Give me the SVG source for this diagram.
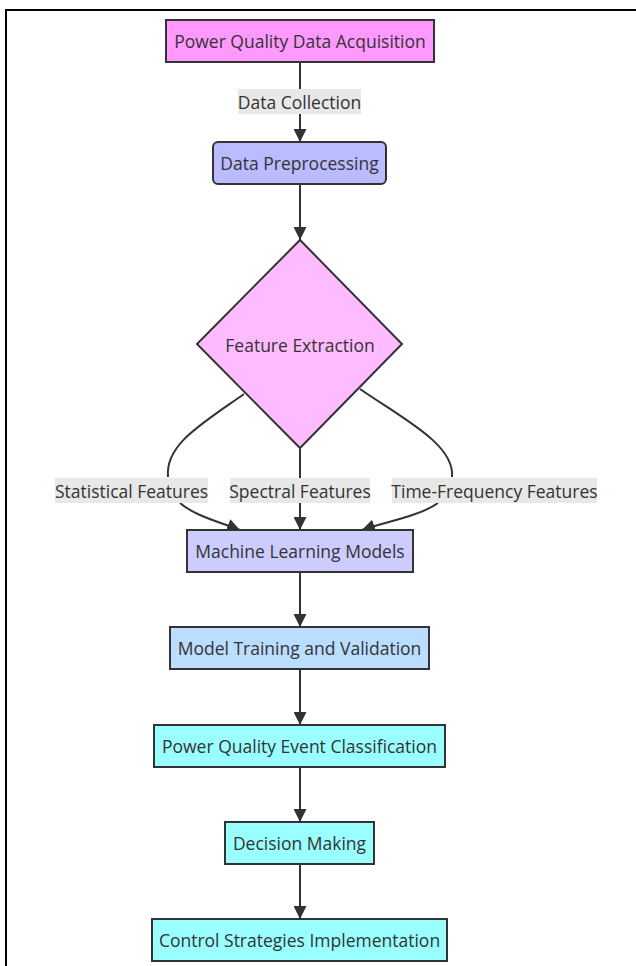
<svg xmlns="http://www.w3.org/2000/svg" width="636" height="966" viewBox="0 0 636 966">
<defs>
<marker id="arr" viewBox="0 0 10 10" refX="10" refY="5" markerWidth="13" markerHeight="13" markerUnits="userSpaceOnUse" orient="auto">
<path d="M0,0 L10,5 L0,10 z" fill="#333"/>
</marker>
<style>
.n{stroke:#333;stroke-width:2}
.t{font-family:"Open Sans",sans-serif;font-size:17.5px;fill:#333;text-anchor:middle;dominant-baseline:central}
.e{fill:none;stroke:#333;stroke-width:2}
.lb{fill:#e8e8e8}
</style>
</defs>
<rect width="636" height="966" fill="#fff"/>
<path d="M6,966 V10 H636" fill="none" stroke="#000" stroke-width="2"/>
<g id="connectors">
<path class="e" d="M300,62 V142" marker-end="url(#arr)"/>
<path class="e" d="M300,184 V240" marker-end="url(#arr)"/>
<path class="e" d="M244,394 C200,425 165,445 168,477"/>
<path class="e" d="M180,503 C195,516 220,522 240,530" marker-end="url(#arr)"/>
<path class="e" d="M300,449 V530" marker-end="url(#arr)"/>
<path class="e" d="M360,389 C405,420 455,445 452,477"/>
<path class="e" d="M438,503 C420,516 385,522 362,530" marker-end="url(#arr)"/>
<path class="e" d="M300,572 V627" marker-end="url(#arr)"/>
<path class="e" d="M300,669 V725" marker-end="url(#arr)"/>
<path class="e" d="M300,767 V822" marker-end="url(#arr)"/>
<path class="e" d="M300,864 V919" marker-end="url(#arr)"/>
<rect class="lb" x="238" y="89" width="123" height="25"/>
<text class="t" x="299.5" y="102">Data Collection</text>
<rect class="lb" x="55" y="478" width="153" height="25"/>
<text class="t" x="131.5" y="491">Statistical Features</text>
<rect class="lb" x="230" y="478" width="140" height="25"/>
<text class="t" x="300" y="491">Spectral Features</text>
<rect class="lb" x="392" y="478" width="205" height="25"/>
<text class="t" x="494.5" y="491">Time-Frequency Features</text>
</g>
<g id="n1"><rect class="n" x="166" y="20" width="268" height="42" fill="#ff99ff"/><text class="t" x="300" y="41">Power Quality Data Acquisition</text></g>
<g id="n2"><rect class="n" x="213" y="142" width="173" height="42" rx="5" fill="#bbbbff"/><text class="t" x="299.5" y="163">Data Preprocessing</text></g>
<g id="n3"><polygon class="n" points="300,240 402,344 300,448 197,344" fill="#ffbbff"/><text class="t" x="300" y="345">Feature Extraction</text></g>
<g id="n4"><rect class="n" x="187" y="530" width="226" height="42" fill="#ccccff"/><text class="t" x="300" y="551">Machine Learning Models</text></g>
<g id="n5"><rect class="n" x="170" y="627" width="259" height="42" fill="#bbddff"/><text class="t" x="299.5" y="648">Model Training and Validation</text></g>
<g id="n6"><rect class="n" x="154" y="725" width="291" height="42" fill="#99ffff"/><text class="t" x="299.5" y="746">Power Quality Event Classification</text></g>
<g id="n7"><rect class="n" x="225" y="822" width="149" height="42" fill="#99ffff"/><text class="t" x="299.5" y="843">Decision Making</text></g>
<g id="n8"><rect class="n" x="152" y="919" width="295" height="42" fill="#99ffff"/><text class="t" x="299.5" y="940">Control Strategies Implementation</text></g>
</svg>
